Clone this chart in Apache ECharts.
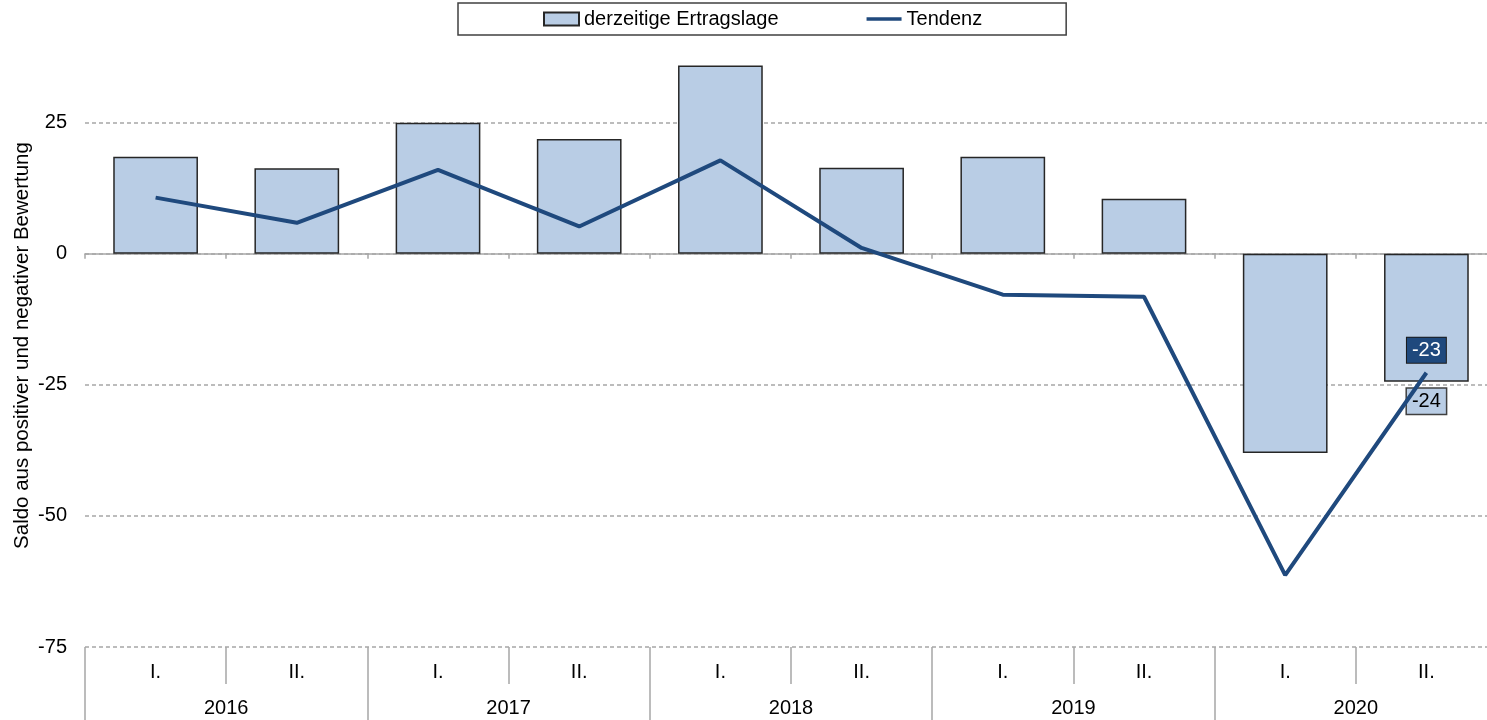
<!DOCTYPE html>
<html>
<head>
<meta charset="utf-8">
<title>Ertragslage</title>
<script src="https://cdn.jsdelivr.net/npm/echarts@6/dist/echarts.min.js"></script>
<style>
  html, body { margin: 0; padding: 0; background: #fff; }
  #chart { width: 1487px; height: 720px; }
</style>
</head>
<body>
<div id="chart"></div>
<script>
// data
const halves = ['I.', 'II.', 'I.', 'II.', 'I.', 'II.', 'I.', 'II.', 'I.', 'II.'];
const years = ['2016', '2017', '2018', '2019', '2020'];
const ertragslage = [18.5, 16.3, 25, 21.9, 35.9, 16.4, 18.5, 10.5, -38, -24.4];
const tendenz = [10.7, 5.9, 16, 5.2, 17.8, 1.1, -7.8, -8.2, -61.3, -22.7];
const yTicks = [-75, -50, -25, 0, 25];

const FONT = '"Liberation Sans", Arial, sans-serif';
const BAR_FILL = '#b9cde5';
const LINE_COLOR = '#1f497d';
const GRID_GREY = '#a6a6a6';

const chart = echarts.init(document.getElementById('chart'));

// only the last point of each series carries a label
const barData = ertragslage.map((v, i) => i === ertragslage.length - 1 ? {
    value: v,
    label: {
        show: true,
        position: 'bottom',
        distance: 7,
        formatter: p => Math.round(p.value),
        color: '#000',
        fontSize: 20,
        fontFamily: FONT,
        backgroundColor: BAR_FILL,
        borderColor: '#404040',
        borderWidth: 1.5,
        padding: [3, 5, 2, 5]
    }
} : v);

const lineData = tendenz.map((v, i) => i === tendenz.length - 1 ? {
    value: v,
    label: {
        show: true,
        position: 'top',
        distance: 10,
        formatter: p => Math.round(p.value),
        color: '#fff',
        fontSize: 20,
        fontFamily: FONT,
        backgroundColor: LINE_COLOR,
        borderColor: '#1a1a1a',
        borderWidth: 1,
        padding: [3, 5, 2, 5]
    }
} : v);

const option = {
    animation: false,
    backgroundColor: '#fff',
    textStyle: { fontFamily: FONT },
    legend: {
        left: 458,
        top: 3,
        padding: [6, 84, 6, 85],
        itemGap: 88,
        itemWidth: 35,
        itemHeight: 13,
        borderColor: '#404040',
        borderWidth: 1.5,
        textStyle: { fontSize: 20, color: '#000', fontFamily: FONT },
        data: [
            { name: 'derzeitige Ertragslage', icon: 'rect' },
            { name: 'Tendenz', icon: 'path://M0,0 L38,0 L38,4 L0,4 Z', itemStyle: { color: LINE_COLOR, borderWidth: 0 } }
        ]
    },
    grid: {
        left: 85,
        width: 1412,
        top: 44,
        bottom: 73,
        containLabel: false,
        outerBoundsMode: 'none'
    },
    xAxis: [
        {
            type: 'category',
            data: halves,
            boundaryGap: true,
            axisLine: { onZero: true, lineStyle: { color: GRID_GREY, width: 1.5 } },
            axisTick: { show: true, length: 5, lineStyle: { color: GRID_GREY, width: 1.5 } },
            axisLabel: { show: false }
        },
        {
            type: 'category',
            data: halves,
            position: 'bottom',
            boundaryGap: true,
            axisLine: { show: false, onZero: false },
            axisTick: { show: true, length: 37, lineStyle: { color: GRID_GREY, width: 1.5 } },
            axisLabel: { margin: 15, fontSize: 20, color: '#000', fontFamily: FONT }
        },
        {
            type: 'category',
            data: years,
            position: 'bottom',
            boundaryGap: true,
            axisLine: { show: false, onZero: false },
            axisTick: { show: true, length: 73, lineStyle: { color: GRID_GREY, width: 1.5 } },
            axisLabel: { margin: 51, fontSize: 20, color: '#000', fontFamily: FONT }
        }
    ],
    yAxis: {
        type: 'value',
        min: yTicks[0],
        max: 40,
        interval: 25,
        name: 'Saldo aus positiver und negativer Bewertung',
        nameLocation: 'middle',
        nameGap: 52,
        nameMoveOverlap: false,
        nameTextStyle: { fontSize: 20.5, color: '#000', fontFamily: FONT },
        axisLine: { show: false },
        axisTick: { show: false },
        axisLabel: {
            showMaxLabel: false,
            margin: 18,
            fontSize: 20,
            color: '#000',
            fontFamily: FONT
        },
        splitLine: {
            showMaxLine: false,
            lineStyle: { color: GRID_GREY, type: [4, 3], width: 1.5 }
        }
    },
    series: [
        {
            name: 'derzeitige Ertragslage',
            type: 'bar',
            xAxisIndex: 0,
            barCategoryGap: '40%',
            data: barData,
            itemStyle: { color: BAR_FILL, borderColor: '#262626', borderWidth: 1.5 },
            z: 2
        },
        {
            name: 'Tendenz',
            type: 'line',
            xAxisIndex: 0,
            data: lineData,
            symbol: 'circle',
            symbolSize: 0,
            lineStyle: { color: LINE_COLOR, width: 4 },
            itemStyle: { color: LINE_COLOR },
            z: 3
        }
    ]
};

chart.setOption(option);
</script>
</body>
</html>
